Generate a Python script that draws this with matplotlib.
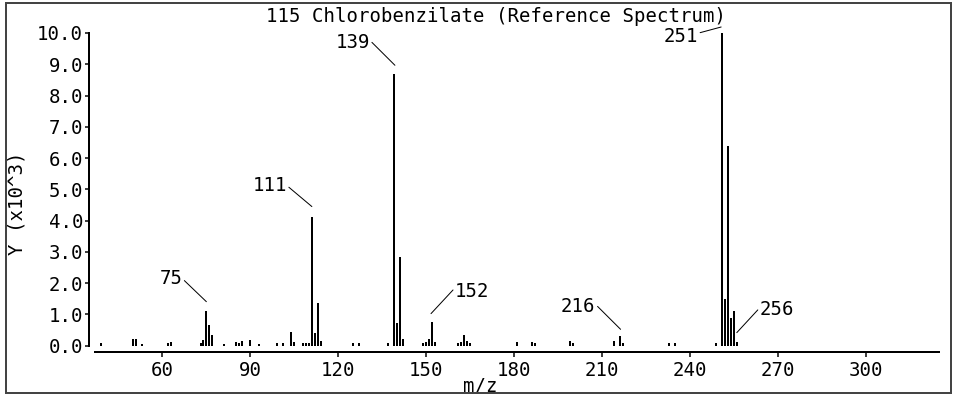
import matplotlib
matplotlib.use("Agg")
import matplotlib.pyplot as plt
from matplotlib.patches import Rectangle
from matplotlib.transforms import ScaledTranslation

# peak list: m/z and intensity (x10^3)
mz = [39, 50, 51, 53, 62, 63, 73, 74, 75, 76, 77, 81, 85, 86, 87, 90, 93,
      99, 101, 104, 105, 108, 109, 110, 111, 112, 113, 114, 125, 127, 137,
      139, 140, 141, 142, 149, 150, 151, 152, 153, 161, 162, 163, 164, 165,
      181, 186, 187, 199, 200, 214, 216, 217, 233, 235, 249, 251, 252, 253,
      254, 255, 256]
intensity = [0.08, 0.2, 0.2, 0.07, 0.08, 0.13, 0.08, 0.18, 1.12, 0.66, 0.34,
             0.07, 0.13, 0.1, 0.15, 0.18, 0.05, 0.08, 0.08, 0.45, 0.13, 0.08,
             0.08, 0.08, 4.13, 0.4, 1.38, 0.15, 0.08, 0.08, 0.08, 8.68, 0.72,
             2.85, 0.2, 0.08, 0.13, 0.2, 0.77, 0.13, 0.08, 0.13, 0.34, 0.15,
             0.1, 0.13, 0.13, 0.08, 0.15, 0.08, 0.15, 0.3, 0.1, 0.08, 0.08,
             0.08, 10.0, 1.5, 6.38, 0.88, 1.12, 0.13]

labeled = [75, 111, 139, 152, 216, 251, 256]
x_ticks = [60, 90, 120, 150, 180, 210, 240, 270, 300]
y_ticks = [0, 1, 2, 3, 4, 5, 6, 7, 8, 9, 10]

# label placement (pixels): leader end offset from peak top, text offset from leader end
label_layout = {
    75: ((0, 9), (-24, 23), "right", (1, 0.5)),
    111: ((0, 10), (-25, 21), "right", (1, 0.5)),
    139: ((1, 9), (-25, 23), "right", (1, 0.6)),
    152: ((-1, 8), (24, 22), "left", (0, 0.7)),
    216: ((1, 7), (-25, 23), "right", (1, 0.6)),
    251: ((-1, 6), (-23, -10), "right", (1, 0.7)),
    256: ((0, 9), (23, 23), "left", (0, 0.6)),
}

plt.rcParams["font.family"] = "DejaVu Sans Mono"
FS = 19

W, H, DPI = 954, 396, 72
fig = plt.figure(figsize=(W / DPI, H / DPI), dpi=DPI)
fig.patch.set_facecolor("white")

left, right, top, bottom = 95, 939, 33, 345.7
ax = fig.add_axes([left / W, 1 - bottom / H, (right - left) / W, (bottom - top) / H])

ax.vlines(mz, 0, intensity, colors="black", linewidth=2)

ax.set_xlim(37, 325)
ax.set_ylim(0, 10)

for s in ["top", "right"]:
    ax.spines[s].set_visible(False)
ax.spines["left"].set_position(("outward", 6))
ax.spines["bottom"].set_position(("outward", 6))
ax.spines["left"].set_bounds(0, 10)
ax.spines["left"].set_linewidth(2)
ax.spines["bottom"].set_linewidth(2)

ax.set_xticks(x_ticks)
ax.set_yticks(y_ticks)
ax.set_yticklabels([f"{v:.1f}" for v in y_ticks])
ax.tick_params(axis="x", length=5, width=1.5, pad=4, labelsize=FS)
ax.tick_params(axis="y", length=4, width=1.5, pad=2, labelsize=FS)

ax.set_xlabel("m/z", fontsize=FS, va="center")
ax.xaxis.set_label_coords((480 - left) / (right - left), -(387 - bottom) / (bottom - top))
ax.set_ylabel("Y (x10^3)", fontsize=FS, va="center")
ax.yaxis.set_label_coords((17 - left) / (right - left), (bottom - 203) / (bottom - top))

heights = dict(zip(mz, intensity))
for m in labeled:
    (ex, ey), (tx, ty), ha, relpos = label_layout[m]
    tr = ax.transData + ScaledTranslation(ex / DPI, ey / DPI, fig.dpi_scale_trans)
    ax.annotate(str(m), xy=(m, heights[m]), xycoords=tr,
                xytext=(tx * 72 / DPI, ty * 72 / DPI), textcoords="offset points",
                ha=ha, va="center", fontsize=FS,
                arrowprops=dict(arrowstyle="-", color="black", lw=1,
                                shrinkA=0, shrinkB=0, relpos=relpos),
                annotation_clip=False)

fig.text(496 / W, 1 - 17 / H, "115 Chlorobenzilate (Reference Spectrum)",
         ha="center", va="center", fontsize=FS)

fig.patches.append(Rectangle((6 / W, 3 / H), (951 - 6) / W, (393 - 3) / H,
                             transform=fig.transFigure, fill=False,
                             edgecolor="#444444", linewidth=2))

fig.savefig("out.png", dpi=DPI, facecolor="white")
